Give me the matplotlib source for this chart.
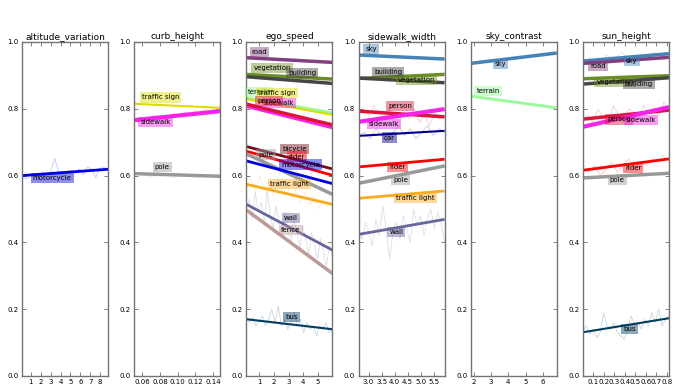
import numpy as np
import matplotlib
matplotlib.use("Agg")
import matplotlib.pyplot as plt

# Cityscapes class colours
class_colors = {
    "road": (128, 64, 128), "sidewalk": (244, 35, 232), "building": (70, 70, 70),
    "wall": (102, 102, 156), "fence": (190, 153, 153), "pole": (153, 153, 153),
    "traffic light": (250, 170, 30), "traffic sign": (220, 220, 0),
    "vegetation": (107, 142, 35), "terrain": (152, 251, 152), "sky": (70, 130, 180),
    "person": (220, 20, 60), "rider": (255, 0, 0), "car": (0, 0, 142),
    "bus": (0, 60, 100), "motorcycle": (0, 0, 230), "bicycle": (119, 11, 32),
}
class_widths = {
    "road": 2.5, "sidewalk": 3.0, "building": 2.5, "wall": 2.0, "fence": 2.5,
    "pole": 2.5, "traffic light": 2.0, "traffic sign": 1.5, "vegetation": 2.5,
    "terrain": 2.0, "sky": 2.5, "person": 2.5, "rider": 2.0, "car": 1.5,
    "bus": 1.5, "motorcycle": 2.0, "bicycle": 2.0,
}

titles = ["altitude_variation", "curb_height", "ego_speed", "sidewalk_width",
          "sky_contrast", "sun_height"]
x_ranges = [(0.1, 8.8), (0.051, 0.148), (0.12, 6.0), (2.62, 5.92), (1.83, 6.8), (0.005, 0.82)]
x_ticks = [[1, 2, 3, 4, 5, 6, 7, 8],
           [0.06, 0.08, 0.10, 0.12, 0.14],
           [1, 2, 3, 4, 5],
           [3.0, 3.5, 4.0, 4.5, 5.0, 5.5],
           [2, 3, 4, 5, 6],
           [0.1, 0.2, 0.3, 0.4, 0.5, 0.6, 0.7, 0.8]]
x_ticklabels = [["1", "2", "3", "4", "5", "6", "7", "8"],
                ["0.06", "0.08", "0.10", "0.12", "0.14"],
                ["1", "2", "3", "4", "5"],
                ["3.0", "3.5", "4.0", "4.5", "5.0", "5.5"],
                ["2", "3", "4", "5", "6"],
                ["0.1", "0.2", "0.3", "0.4", "0.5", "0.6", "0.7", "0.8"]]

# fitted trend lines: class, value at start, value at end
altitude_classes = ["motorcycle"]
altitude_start = [0.600]
altitude_end = [0.619]

curb_classes = ["traffic sign", "sidewalk", "pole"]
curb_start = [0.815, 0.766, 0.606]
curb_end = [0.803, 0.793, 0.598]

ego_classes = ["road", "vegetation", "building", "terrain", "traffic sign", "sidewalk",
               "person", "bicycle", "rider", "pole", "motorcycle", "traffic light",
               "wall", "fence", "bus"]
ego_start = [0.953, 0.903, 0.896, 0.833, 0.829, 0.809, 0.814, 0.687, 0.673, 0.665,
             0.644, 0.574, 0.514, 0.497, 0.170]
ego_end = [0.939, 0.889, 0.876, 0.788, 0.782, 0.745, 0.752, 0.620, 0.601, 0.544,
           0.576, 0.514, 0.377, 0.307, 0.140]

sidewalk_classes = ["sky", "vegetation", "building", "person", "sidewalk", "car",
                    "rider", "pole", "traffic light", "wall"]
sidewalk_start = [0.961, 0.891, 0.892, 0.793, 0.761, 0.719, 0.626, 0.577, 0.532, 0.424]
sidewalk_end = [0.949, 0.903, 0.878, 0.776, 0.799, 0.734, 0.649, 0.629, 0.554, 0.469]

sky_classes = ["sky", "terrain"]
sky_start = [0.936, 0.838]
sky_end = [0.967, 0.803]

sun_classes = ["sky", "road", "vegetation", "building", "person", "sidewalk",
               "rider", "pole", "bus"]
sun_start = [0.943, 0.936, 0.890, 0.874, 0.769, 0.746, 0.616, 0.593, 0.131]
sun_end = [0.965, 0.954, 0.899, 0.893, 0.796, 0.805, 0.650, 0.607, 0.173]

# label anchor positions (x, y) for each class box
altitude_labels = [(3.14, 0.593)]
curb_labels = [(0.0807, 0.834), (0.0751, 0.760), (0.0824, 0.626)]
ego_labels = [(1.02, 0.970), (1.88, 0.922), (3.92, 0.907), (1.00, 0.850), (2.22, 0.847),
              (2.36, 0.817), (1.68, 0.824), (3.42, 0.680), (3.58, 0.657), (1.46, 0.663),
              (3.83, 0.633), (3.04, 0.575), (3.16, 0.474), (3.16, 0.436), (3.20, 0.177)]
sidewalk_labels = [(3.11, 0.979), (4.84, 0.885), (3.75, 0.909), (4.22, 0.808),
                   (3.59, 0.755), (3.79, 0.714), (4.11, 0.626), (4.23, 0.588),
                   (4.80, 0.532), (4.07, 0.430)]
sky_labels = [(3.55, 0.933), (2.83, 0.853)]
sun_labels = [(0.466, 0.942), (0.15, 0.928), (0.31, 0.881), (0.535, 0.874),
              (0.35, 0.768), (0.554, 0.766), (0.481, 0.624), (0.33, 0.586), (0.443, 0.141)]

raw_altitude_motorcycle = [0.595, 0.590, 0.600, 0.605, 0.598, 0.610, 0.604, 0.612, 0.652,
                           0.606, 0.600, 0.611, 0.616, 0.609, 0.620, 0.603, 0.626, 0.619,
                           0.594, 0.621, 0.627, 0.615]
raw_curb_sidewalk = [0.765, 0.772, 0.760, 0.775, 0.782, 0.770, 0.778, 0.768, 0.785, 0.776,
                     0.790, 0.780, 0.795, 0.786, 0.800, 0.790, 0.805, 0.795]
raw_curb_pole = [0.602, 0.608, 0.600, 0.596, 0.604, 0.598, 0.606, 0.594, 0.602, 0.597,
                 0.600, 0.593, 0.601, 0.596, 0.599, 0.594]
raw_ego_wall = [0.50, 0.53, 0.47, 0.55, 0.49, 0.52, 0.45, 0.56, 0.48, 0.44, 0.51, 0.46,
                0.42, 0.49, 0.44, 0.40, 0.47, 0.43, 0.38, 0.45, 0.41, 0.36, 0.43, 0.39,
                0.35, 0.41, 0.37, 0.33, 0.39, 0.36]
raw_ego_bus = [0.170, 0.160, 0.175, 0.150, 0.162, 0.180, 0.152, 0.170, 0.200, 0.160,
               0.210, 0.150, 0.170, 0.140, 0.160, 0.190, 0.150, 0.170, 0.130, 0.160,
               0.140, 0.150, 0.120, 0.150, 0.140, 0.160, 0.130, 0.140]
raw_ego_traffic_light = [0.57, 0.59, 0.55, 0.60, 0.56, 0.58, 0.54, 0.59, 0.55, 0.57,
                         0.53, 0.56, 0.52, 0.55, 0.51, 0.54, 0.50, 0.53, 0.51, 0.52]
raw_sidewalk_wall = [0.44, 0.41, 0.46, 0.43, 0.39, 0.47, 0.42, 0.51, 0.44, 0.35, 0.43,
                     0.46, 0.41, 0.48, 0.44, 0.40, 0.50, 0.45, 0.48, 0.42, 0.47, 0.50,
                     0.44, 0.49, 0.46, 0.40]
raw_sidewalk_person = [0.79, 0.80, 0.78, 0.81, 0.79, 0.77, 0.80, 0.78, 0.76, 0.79, 0.77,
                       0.80, 0.76, 0.78, 0.75, 0.79, 0.77, 0.78]
raw_sidewalk_car = [0.72, 0.73, 0.71, 0.74, 0.72, 0.70, 0.73, 0.75, 0.72, 0.74, 0.71,
                    0.73, 0.75, 0.72, 0.74, 0.73]
raw_sky_terrain = [0.840, 0.835, 0.830, 0.826, 0.822, 0.820, 0.818, 0.812, 0.815, 0.808,
                   0.812, 0.805, 0.808, 0.800, 0.806, 0.802]
raw_sun_person = [0.77, 0.78, 0.76, 0.80, 0.77, 0.75, 0.81, 0.78, 0.76, 0.80, 0.79,
                  0.77, 0.81, 0.79, 0.80, 0.78, 0.82, 0.79]
raw_sun_rider = [0.62, 0.61, 0.63, 0.60, 0.62, 0.64, 0.61, 0.63, 0.65, 0.62, 0.64,
                 0.63, 0.65, 0.64, 0.66, 0.64]
raw_sun_sky = [0.94, 0.95, 0.93, 0.96, 0.95, 0.97, 0.94, 0.96, 0.95, 0.97, 0.96, 0.97]
raw_sun_bus = [0.135, 0.150, 0.125, 0.140, 0.115, 0.130, 0.190, 0.150, 0.140, 0.160,
               0.130, 0.120, 0.110, 0.140, 0.180, 0.150, 0.160, 0.140, 0.170, 0.150,
               0.190, 0.160, 0.200, 0.150, 0.170, 0.180]

panels = [
    (altitude_classes, altitude_start, altitude_end, altitude_labels,
     [("motorcycle", raw_altitude_motorcycle)]),
    (curb_classes, curb_start, curb_end, curb_labels,
     [("sidewalk", raw_curb_sidewalk), ("pole", raw_curb_pole)]),
    (ego_classes, ego_start, ego_end, ego_labels,
     [("wall", raw_ego_wall), ("bus", raw_ego_bus), ("traffic light", raw_ego_traffic_light)]),
    (sidewalk_classes, sidewalk_start, sidewalk_end, sidewalk_labels,
     [("wall", raw_sidewalk_wall), ("person", raw_sidewalk_person), ("car", raw_sidewalk_car)]),
    (sky_classes, sky_start, sky_end, sky_labels,
     [("terrain", raw_sky_terrain)]),
    (sun_classes, sun_start, sun_end, sun_labels,
     [("person", raw_sun_person), ("rider", raw_sun_rider), ("sky", raw_sun_sky),
      ("bus", raw_sun_bus)]),
]


def col(name):
    return tuple(c / 255.0 for c in class_colors[name])


fig = plt.figure(figsize=(6.85, 3.91), dpi=100, facecolor="white")
left, right, bottom, top = 22 / 685, 669 / 685, 1 - 376 / 391, 1 - 42 / 391
n = 6
axw = 86 / 685
step = (right - left - axw) / (n - 1)

for i in range(n):
    ax = fig.add_axes([left + i * step, bottom, axw, top - bottom])
    classes, starts, ends, labels, raws = panels[i]
    x0, x1 = x_ranges[i]
    for name, vals in raws:
        xs = np.linspace(x0, x1, len(vals))
        ax.plot(xs, vals, color=col(name), lw=0.6, alpha=0.22, zorder=1)
    for name, s, e in zip(classes, starts, ends):
        ax.plot([x0, x1], [s, e], color=col(name), lw=class_widths[name], zorder=2,
                solid_capstyle="butt")
    for name, (lx, ly) in zip(classes, labels):
        ax.text(lx, ly, name, fontsize=5, ha="center", va="center", color="black", zorder=3,
                bbox=dict(boxstyle="square,pad=0.3", facecolor=col(name), alpha=0.45,
                          edgecolor="none"))
    ax.set_xlim(x0, x1)
    ax.set_ylim(0, 1.0)
    ax.set_xticks(x_ticks[i])
    ax.set_xticklabels(x_ticklabels[i])
    ax.set_yticks([0.0, 0.2, 0.4, 0.6, 0.8, 1.0])
    ax.set_yticklabels(["0.0", "0.2", "0.4", "0.6", "0.8", "1.0"])
    ax.tick_params(direction="in", top=True, right=True, labelsize=5, length=3,
                   width=0.5, color="0.3", pad=2.5)
    for sp in ax.spines.values():
        sp.set_color("0.45")
        sp.set_linewidth(1.0)
    ax.set_title(titles[i], fontsize=6.5, pad=2)

fig.savefig("out.png", dpi=100, facecolor="white")
